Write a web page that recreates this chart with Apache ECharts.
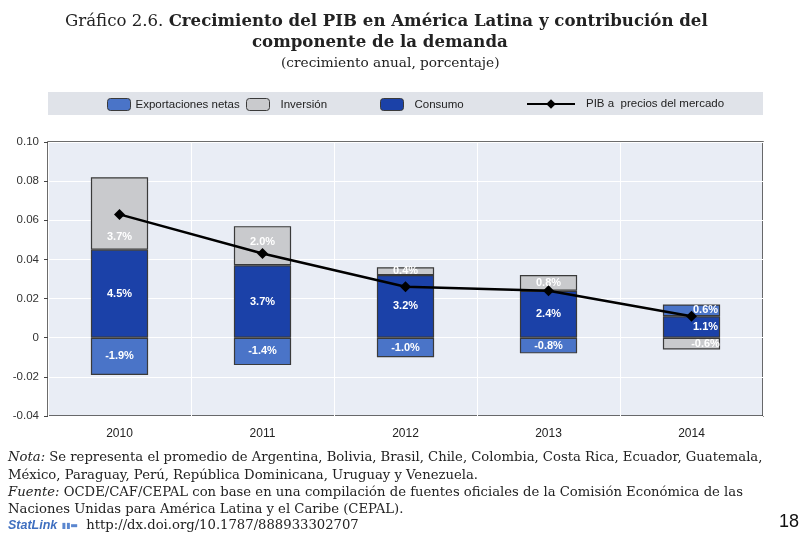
<!DOCTYPE html>
<html>
<head>
<meta charset="utf-8">
<script src="https://cdn.jsdelivr.net/npm/echarts@6/dist/echarts.min.js"></script>
<style>
  html, body { margin: 0; padding: 0; background: #fff; }
  #chart { width: 801px; height: 535px; }
</style>
</head>
<body>
<div id="chart"></div>
<script>
// Years on the category axis
const years = ['2010', '2011', '2012', '2013', '2014'];

// Contributions to GDP growth (fractions of 1)
const consumo = [0.045, 0.037, 0.032, 0.024, 0.011];
const exportacionesNetas = [-0.019, -0.014, -0.010, -0.008, 0.006];
const inversion = [0.037, 0.020, 0.004, 0.008, -0.006];

// GDP growth at market prices
const pib = [0.063, 0.043, 0.026, 0.024, 0.011];

// Value-axis ticks
const yTicks = [-0.04, -0.02, 0, 0.02, 0.04, 0.06, 0.08, 0.10];

const colors = {
  consumo: '#1b41a8',
  exportaciones: '#4a74c8',
  inversion: '#c9cacd',
  border: '#3a3a3a',
  plotBg: '#e9edf5',
  band: '#e0e3e9'
};

const sans = '"Liberation Sans", Arial, sans-serif';
const serif = '"DejaVu Serif", "Liberation Serif", serif';

const pct = v => (v * 100).toFixed(1) + '%';

// Stacked bar series; labelShift moves individual labels clear of the line markers
function barSeries(name, values, color, labelShift) {
  return {
    name: name,
    type: 'bar',
    stack: 'componentes',
    barWidth: '40%',
    itemStyle: { color: color, borderColor: colors.border, borderWidth: 1.2 },
    label: {
      show: true,
      position: 'inside',
      color: '#ffffff',
      fontFamily: sans,
      fontWeight: 'bold',
      fontSize: 11,
      formatter: p => pct(p.value)
    },
    data: values.map((v, i) => labelShift && labelShift[i]
      ? { value: v, label: { offset: labelShift[i] } }
      : v)
  };
}

const chart = echarts.init(document.getElementById('chart'), null, { renderer: 'canvas' });

const legendBase = {
  top: 98,
  itemWidth: 23,
  itemHeight: 12,
  itemGap: 0,
  selectedMode: false,
  textStyle: { fontFamily: sans, fontSize: 11.5, color: '#222', padding: [0, 0, 0, 0] },
  padding: 0
};
const swatchBorder = { borderColor: colors.border, borderWidth: 1 };

chart.setOption({
  animation: false,
  backgroundColor: '#ffffff',
  graphic: [
    { type: 'rect', z: -1, shape: { x: 48, y: 92, width: 715, height: 23 }, style: { fill: colors.band } },
    {
      type: 'text', left: 65, top: 13,
      style: {
        text: '{n|Gráfico 2.6. }{b|Crecimiento del PIB en América Latina y contribución del}',
        rich: {
          n: { fontFamily: serif, fontSize: 16.6, fill: '#222' },
          b: { fontFamily: serif, fontSize: 16.6, fontWeight: 'bold', fill: '#222' }
        }
      }
    },
    {
      type: 'text', left: 252, top: 34,
      style: { text: 'componente de la demanda', fontFamily: serif, fontSize: 16.6, fontWeight: 'bold', fill: '#222' }
    },
    {
      type: 'text', left: 281, top: 56,
      style: { text: '(crecimiento anual, porcentaje)', fontFamily: serif, fontSize: 13.7, fill: '#222' }
    },
    {
      type: 'text', left: 8, top: 449,
      style: {
        text: '{i|Nota:} Se representa el promedio de Argentina, Bolivia, Brasil, Chile, Colombia, Costa Rica, Ecuador, Guatemala,\nMéxico, Paraguay, Perú, República Dominicana, Uruguay y Venezuela.',
        fontFamily: serif, fontSize: 13.2, lineHeight: 18, fill: '#222',
        rich: { i: { fontFamily: serif, fontSize: 13.2, fontStyle: 'italic', fill: '#222' } }
      }
    },
    {
      type: 'text', left: 8, top: 484,
      style: {
        text: '{i|Fuente:} OCDE/CAF/CEPAL con base en una compilación de fuentes oficiales de la Comisión Económica de las\nNaciones Unidas para América Latina y el Caribe (CEPAL).',
        fontFamily: serif, fontSize: 13.2, lineHeight: 17, fill: '#222',
        rich: { i: { fontFamily: serif, fontSize: 13.2, fontStyle: 'italic', fill: '#222' } }
      }
    },
    {
      type: 'text', left: 8, top: 519,
      style: {
        text: '{s|StatLink} {g|▮▮▬}  http://dx.doi.org/10.1787/888933302707',
        fontFamily: serif, fontSize: 13.2, fill: '#222',
        rich: {
          s: { fontFamily: sans, fontSize: 12.5, fontStyle: 'italic', fontWeight: 'bold', fill: '#3f6fc0' },
          g: { fontFamily: '"DejaVu Sans", sans-serif', fontSize: 8, fill: '#5a86cf' }
        }
      }
    },
    {
      type: 'text', left: 779, top: 513,
      style: { text: '18', fontFamily: sans, fontSize: 18, fill: '#111' }
    }
  ],
  legend: [
    Object.assign({}, legendBase, { left: 107, data: [{ name: 'Exportaciones netas', itemStyle: swatchBorder }], textStyle: Object.assign({}, legendBase.textStyle, { padding: [0, 0, 0, 0] }) }),
    Object.assign({}, legendBase, { left: 246, data: [{ name: 'Inversión', itemStyle: swatchBorder }], textStyle: Object.assign({}, legendBase.textStyle, { padding: [0, 0, 0, 6] }) }),
    Object.assign({}, legendBase, { left: 380, data: [{ name: 'Consumo', itemStyle: swatchBorder }], textStyle: Object.assign({}, legendBase.textStyle, { padding: [0, 0, 0, 6] }) }),
    Object.assign({}, legendBase, { left: 526, itemWidth: 48, itemHeight: 12, data: [{ name: 'PIB a  precios del mercado' }], textStyle: Object.assign({}, legendBase.textStyle, { padding: [0, 0, 0, 6] }) })
  ],
  grid: {
    left: 48, right: 38, top: 142, bottom: 119,
    show: true,
    backgroundColor: colors.plotBg,
    borderColor: '#3c3c3c',
    borderWidth: 1.5,
    containLabel: false
  },
  xAxis: {
    type: 'category',
    data: years,
    axisLine: { show: false },
    axisTick: { show: false },
    splitLine: { show: true, lineStyle: { color: '#ffffff', width: 1 } },
    axisLabel: { fontFamily: sans, fontSize: 12, color: '#222', margin: 12 }
  },
  yAxis: {
    type: 'value',
    min: -0.04,
    max: 0.10,
    interval: 0.02,
    axisLine: { show: false },
    axisTick: { show: true, inside: false, length: 4, lineStyle: { color: '#444' } },
    splitLine: { show: true, lineStyle: { color: '#ffffff', width: 1.2 } },
    axisLabel: {
      fontFamily: sans,
      fontSize: 11.5,
      color: '#333',
      margin: 9,
      customValues: yTicks,
      formatter: v => Math.abs(v) < 1e-9 ? '0' : v.toFixed(2)
    }
  },
  series: [
    barSeries('Consumo', consumo, colors.consumo, { 4: [14, 0] }),
    barSeries('Exportaciones netas', exportacionesNetas, colors.exportaciones, { 4: [14, 0] }),
    barSeries('Inversión', inversion, colors.inversion, { 0: [0, 24], 1: [0, -4], 4: [14, 0] }),
    {
      name: 'PIB a  precios del mercado',
      type: 'line',
      data: pib,
      z: 5,
      symbol: 'diamond',
      symbolSize: 11,
      itemStyle: { color: '#000000' },
      lineStyle: { color: '#000000', width: 2.5 },
      label: { show: false }
    }
  ]
});
</script>
</body>
</html>
